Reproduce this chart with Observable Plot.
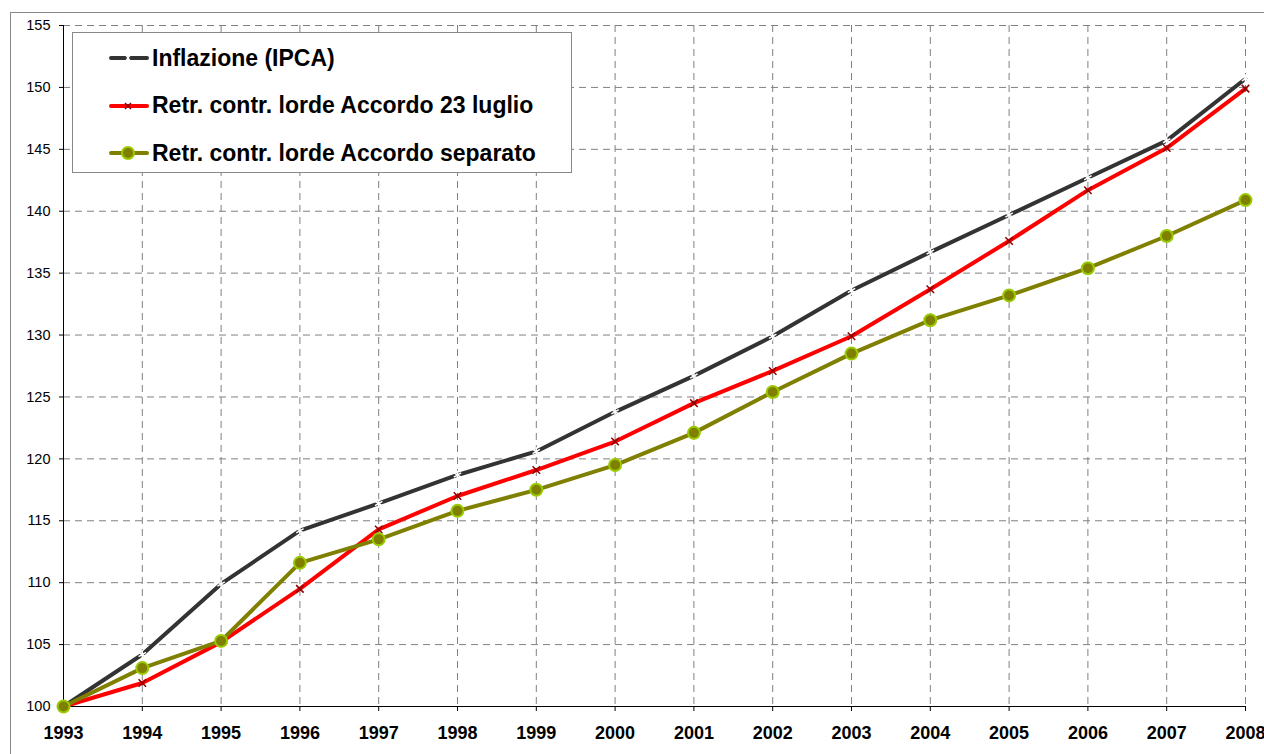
<!DOCTYPE html>
<html>
<head>
<meta charset="utf-8">
<script src="https://cdn.jsdelivr.net/npm/d3@7"></script>
<script src="https://cdn.jsdelivr.net/npm/@observablehq/plot@0.6"></script>
<style>
  html, body { margin: 0; padding: 0; background: #fff; overflow: hidden; }
  #wrap { position: relative; width: 1264px; height: 754px; font-family: "Liberation Sans", Arial, sans-serif; }
  #frame { position: absolute; left: 10px; top: 12px; width: 1300px; height: 800px; border: 1px solid #888; box-sizing: border-box; }
  #chart { position: absolute; left: 0; top: 0; }
  #legend { position: absolute; left: 72px; top: 32px; width: 500px; height: 141px; border: 1px solid #888; background: #fff; box-sizing: border-box; }
  .row { position: absolute; left: 36px; height: 30px; display: flex; align-items: center; font-weight: bold; font-size: 23px; color: #000; white-space: nowrap; font-family: "Liberation Sans", Arial, sans-serif; }
  .row svg { margin-right: 3px; flex: none; }
</style>
</head>
<body>
<div id="wrap">
  <div id="frame"></div>
  <div id="chart"></div>
  <div id="legend"></div>
</div>
<script>
const years = [1993,1994,1995,1996,1997,1998,1999,2000,2001,2002,2003,2004,2005,2006,2007,2008];
const yTicks = [100,105,110,115,120,125,130,135,140,145,150,155];
const seriesNames = ["Inflazione (IPCA)", "Retr. contr. lorde Accordo 23 luglio", "Retr. contr. lorde Accordo separato"];
const inflazione = [100,104.2,109.9,114.2,116.4,118.7,120.6,123.8,126.7,129.9,133.6,136.7,139.7,142.7,145.7,150.7];
const accordo23 = [100,101.9,105.2,109.5,114.3,117.0,119.1,121.4,124.5,127.1,129.9,133.7,137.6,141.7,145.1,149.9];
const separato = [100,103.1,105.3,111.6,113.5,115.8,117.5,119.5,122.1,125.4,128.5,131.2,133.2,135.4,138.0,140.9];

const toRows = (vals) => years.map((y, i) => ({year: y, value: vals[i]}));
const dInf = toRows(inflazione), dAcc = toRows(accordo23), dSep = toRows(separato);

const chart = Plot.plot({
  width: 1264, height: 754,
  marginLeft: 63, marginRight: 19, marginTop: 25, marginBottom: 48,
  style: { fontFamily: "Liberation Sans, Arial, sans-serif", color: "#000", background: "transparent", overflow: "visible" },
  x: { domain: [1993, 2008] },
  y: { domain: [100, 155] },
  marks: [
    Plot.gridX(years.slice(1), { stroke: "#808080", strokeOpacity: 1, strokeDasharray: "7,5" }),
    Plot.gridY(yTicks.slice(1), { stroke: "#808080", strokeOpacity: 1, strokeDasharray: "7,5" }),
    Plot.axisY({ ticks: yTicks, tickSize: 4, tickPadding: 9, label: null, fontSize: 14.5, stroke: "#000", fill: "#000" }),
    Plot.axisX({ ticks: years, tickSize: 5, tickPadding: 15, label: null, fontSize: 18, fontWeight: "bold", tickFormat: d => String(d), stroke: "#000", fill: "#000" }),
    Plot.ruleX([1993], { stroke: "#000", strokeWidth: 1 }),
    Plot.ruleY([100], { stroke: "#000", strokeWidth: 1 }),
    Plot.line(dInf, { x: "year", y: "value", stroke: "#333333", strokeWidth: 4 }),
    Plot.dot(dInf, { x: "year", y: "value", symbol: "asterisk", stroke: "#ffffff", r: 4, strokeWidth: 1.5 }),
    Plot.line(dAcc, { x: "year", y: "value", stroke: "#ff0000", strokeWidth: 4 }),
    Plot.dot(dAcc, { x: "year", y: "value", symbol: "times", stroke: "#8b0000", r: 3.5, strokeWidth: 1.5 }),
    Plot.line(dSep, { x: "year", y: "value", stroke: "#808000", strokeWidth: 4 }),
    Plot.dot(dSep, { x: "year", y: "value", symbol: "circle", fill: "#808000", stroke: "#99cc00", r: 6, strokeWidth: 2 })
  ]
});
document.getElementById("chart").appendChild(chart);

// Legend
const legendSpec = [
  { name: seriesNames[0], stroke: "#333333", marker: "asterisk" },
  { name: seriesNames[1], stroke: "#ff0000", marker: "times" },
  { name: seriesNames[2], stroke: "#808000", marker: "circle" }
];
const legend = document.getElementById("legend");
legendSpec.forEach((s, i) => {
  const row = document.createElement("div");
  row.className = "row";
  row.style.top = (10 + i * 47.5) + "px";
  let mk = "";
  if (s.marker === "asterisk") mk = '<g stroke="#fff" stroke-width="1.3"><line x1="16" y1="11" x2="22" y2="19"/><line x1="22" y1="11" x2="16" y2="19"/><line x1="19" y1="11" x2="19" y2="19"/></g>';
  if (s.marker === "times") mk = '<g stroke="#8b0000" stroke-width="1.5"><line x1="16" y1="12" x2="22" y2="18"/><line x1="22" y1="12" x2="16" y2="18"/></g>';
  if (s.marker === "circle") mk = '<circle cx="19" cy="15" r="6" fill="#808000" stroke="#99cc00" stroke-width="2"/>';
  row.innerHTML = '<svg width="40" height="30"><line x1="2" y1="15" x2="38" y2="15" stroke="' + s.stroke + '" stroke-width="4" stroke-linecap="round"/>' + mk + '</svg><span>' + s.name + '</span>';
  legend.appendChild(row);
});
</script>
</body>
</html>
